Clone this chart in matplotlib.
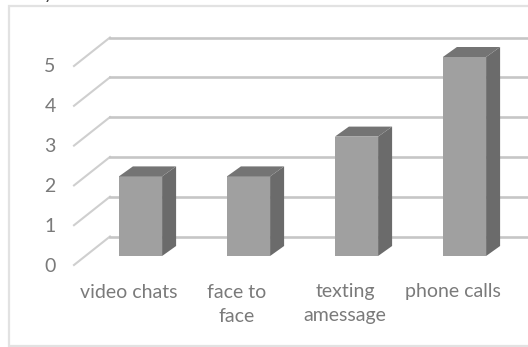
import matplotlib
matplotlib.use("Agg")
import matplotlib.pyplot as plt
from matplotlib.patches import Polygon

categories = ["video chats", "face to\nface", "texting\namessage", "phone calls"]
values = [2, 2, 3, 5]
ticks = [0, 1, 2, 3, 4, 5]

W, H = 528, 347
UX, UY = 108.0, 39.8      # pixels per category / per value
X0, Y0 = 140.5, 256.0     # pixel position of first category, value 0

plt.rcParams['font.family'] = ['Lato', 'DejaVu Sans']
fig = plt.figure(figsize=(W/100, H/100), dpi=100)
ax = fig.add_axes([0, 0, 1, 1])
ax.set_xlim((0-X0)/UX, (W-X0)/UX)
ax.set_ylim((Y0-H)/UY, Y0/UY)
ax.axis('off')

def px(x): return x/UX
def py(y): return y/UY

# border
border = '#e2e2e2'
xl = (8.5-X0)/UX; xr = (W+5-X0)/UX
yt = (Y0-5.5)/UY; yb = (Y0-345.5)/UY
ax.plot([xr, xl, xl, xr], [yt, yt, yb, yb], color=border, lw=1.6, solid_joinstyle='miter', zorder=1)

# gridlines: floor-side stub + back wall line
grid = '#c6c6c6'
fx = (74-X0)/UX; bx = (110-X0)/UX; ex = (W+5-X0)/UX
front_off = -py(9); back_off = py(19.5)
for t in ticks:
    ax.plot([fx, bx], [t+front_off, t+back_off], color='#cfcfcf', lw=1.5, zorder=2)
    ax.plot([bx, ex], [t+back_off, t+back_off], color=grid, lw=1.9, zorder=2)
    ax.text((50-X0)/UX, t-py(10), str(t), ha='center', va='center', fontsize=14, color='#7a7a7a')

# bars
bw = 0.4; dx = px(14); dy = py(10)
for i, v in enumerate(values):
    l, r = i-bw/2, i+bw/2
    ax.add_patch(Polygon([(l, 0), (r, 0), (r, v), (l, v)], closed=True, fc='#a0a0a0', ec='none', zorder=5))
    ax.add_patch(Polygon([(r, 0), (r+dx, dy), (r+dx, v+dy), (r, v)], closed=True, fc='#6b6b6b', ec='none', zorder=5))
    ax.add_patch(Polygon([(l, v), (r, v), (r+dx, v+dy), (l+dx, v+dy)], closed=True, fc='#747474', ec='none', zorder=5))

# category labels
for i, c in enumerate(categories):
    ax.text(i-px(11.5), -py(27.5), c, ha='center', va='top', fontsize=14, color='#7a7a7a', linespacing=1.5)

# clipped title fragment at the top edge
ax.text((48-X0)/UX, (Y0+0.5)/UY, 'y', ha='center', va='baseline', fontsize=13, color='#444444', clip_on=True)

fig.savefig('out.png', dpi=100)
